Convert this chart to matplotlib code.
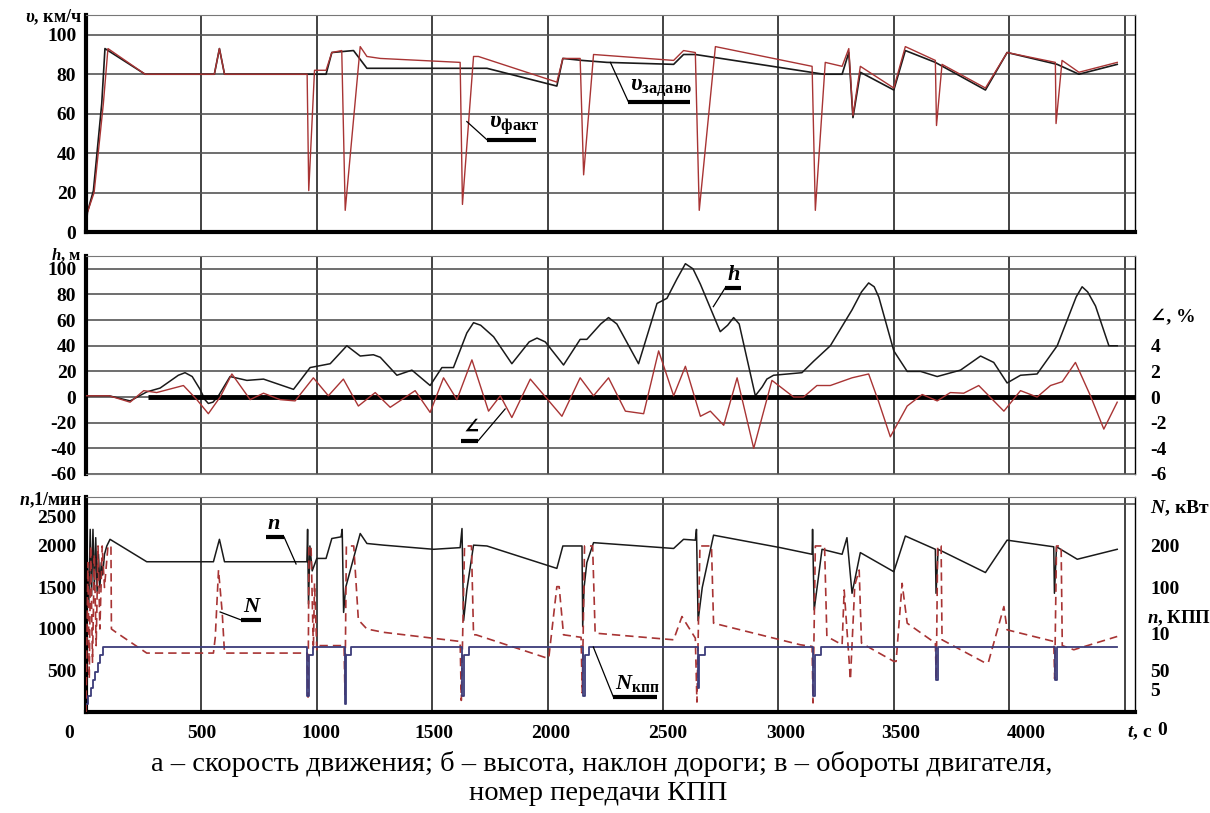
import matplotlib
matplotlib.use('Agg')
import matplotlib.pyplot as plt
from matplotlib.transforms import ScaledTranslation

plt.rcParams['font.family'] = ['Liberation Serif', 'DejaVu Serif']
plt.rcParams['font.weight'] = 'bold'
plt.rcParams['axes.unicode_minus'] = False
plt.rcParams['mathtext.fontset'] = 'custom'
plt.rcParams['mathtext.it'] = 'Liberation Serif:italic:bold'
plt.rcParams['mathtext.rm'] = 'Liberation Serif:bold'
plt.rcParams['mathtext.bf'] = 'Liberation Serif:bold'

# --- a: speed, km/h ---
v_set_t = [0, 6, 32, 68, 82, 256, 556, 578, 600, 1040, 1065, 1159, 1217, 1462, 1737,
           2040, 2066, 2149, 2257, 2546, 2589, 2640, 3196, 3276, 3305, 3323, 3355,
           3500, 3550, 3680, 3897, 3991, 4208, 4302, 4468]
v_set = [0, 10, 21, 65, 93, 80, 80, 93, 80, 80, 91, 92, 83, 83, 83,
         74, 88, 87, 86, 85, 90, 90, 80, 80, 91, 58, 81,
         72, 92, 86, 72, 91, 85, 80, 85]

v_fact_t = [0, 6, 35, 75, 95, 256, 556, 578, 600, 958, 965, 990, 1040, 1065, 1108, 1123,
            1188, 1217, 1275, 1621, 1631, 1679, 1700, 2040, 2066, 2141, 2156, 2199,
            2546, 2589, 2640, 2657, 2727, 3146, 3160, 3203, 3276, 3305, 3323, 3355,
            3500, 3550, 3680, 3685, 3709, 3897, 3991, 4200, 4203, 4229, 4302, 4468]
v_fact = [0, 10, 20, 65, 93, 80, 80, 93, 80, 80, 21, 82, 82, 91, 92, 11,
          94, 89, 88, 86, 14, 89, 89, 76, 88, 88, 29, 90,
          87, 92, 91, 11, 94, 84, 11, 86, 84, 93, 59, 84,
          73, 94, 87, 54, 85, 73, 91, 86, 55, 87, 81, 86]

# --- b: altitude, m and road slope, % ---
h_t = [0, 100, 191, 263, 321, 400, 429, 460, 494, 515, 530, 550, 574, 624, 697, 769,
       899, 971, 1058, 1130, 1188, 1245, 1275, 1347, 1412, 1491, 1542, 1592, 1650,
       1679, 1710, 1766, 1845, 1920, 1954, 1990, 2069, 2141, 2170, 2230, 2264, 2300,
       2394, 2474, 2517, 2560, 2597, 2630, 2662, 2748, 2780, 2806, 2830, 2900, 2930,
       2950, 2979, 3102, 3153, 3225, 3319, 3360, 3391, 3415, 3435, 3500, 3558, 3616,
       3688, 3789, 3876, 3933, 3991, 4049, 4121, 4208, 4290, 4316, 4340, 4374, 4432, 4468]
h = [1, 1, -3, 4, 7, 17, 19, 16, 6, -2, -5, -4, 1, 16, 13, 14,
     6, 23, 26, 40, 32, 33, 31, 17, 21, 9, 23, 23, 50,
     58, 56, 47, 26, 43, 46, 43, 25, 45, 45, 57, 62, 57,
     26, 73, 77, 92, 104, 100, 88, 51, 56, 62, 57, 1, 8,
     14, 17, 19, 28, 40, 68, 82, 89, 86, 78, 36, 20, 20,
     16, 21, 32, 27, 11, 17, 18, 40, 78, 86, 82, 71, 40, 40]

slope_t = [0, 100, 191, 250, 306, 422, 480, 530, 581, 632, 711, 769, 841, 906, 985, 1050,
           1115, 1180, 1253, 1318, 1426, 1491, 1549, 1607, 1672, 1744, 1795, 1845, 1925,
           2062, 2141, 2199, 2264, 2337, 2416, 2481, 2546, 2597, 2662, 2705, 2763, 2821,
           2893, 2972, 3066, 3109, 3167, 3225, 3319, 3391, 3435, 3485, 3558, 3623, 3688,
           3745, 3803, 3868, 3977, 4049, 4121, 4179, 4230, 4287, 4352, 4410, 4468]
slope = [0.1, 0.1, -0.4, 0.5, 0.35, 0.9, -0.2, -1.3, 0, 1.8, -0.2, 0.3, -0.2, -0.3, 1.5, 0.1,
         1.4, -0.7, 0.35, -0.8, 0.5, -1.2, 1.5, -0.2, 2.9, -1.1, 0.1, -1.6, 1.4,
         -1.5, 1.5, 0.1, 1.5, -1.1, -1.3, 3.6, 0.1, 2.4, -1.5, -1.1, -2.2, 1.5,
         -4.0, 1.3, 0, 0, 0.9, 0.9, 1.5, 1.8, -0.4, -3.1, -0.7, 0.2, -0.3,
         0.35, 0.3, 0.9, -1.1, 0.5, 0, 0.9, 1.2, 2.7, 0.1, -2.5, -0.4]
zero_line_start = 270

# --- c: engine speed, power, gear ---
n_t = [0, 6, 12, 18, 24, 30, 36, 42, 48, 54, 60, 66, 72, 80, 90, 104, 263, 552, 578, 600,
       957, 960, 964, 970, 980, 1000, 1040, 1065, 1105, 1110, 1116, 1125, 1188, 1217,
       1289, 1506, 1621, 1629, 1636, 1650, 1679, 1737, 2040, 2066, 2149, 2152, 2158,
       2170, 2199, 2546, 2589, 2640, 2645, 2652, 2670, 2719, 3008, 3146, 3148, 3155,
       3189, 3276, 3297, 3319, 3355, 3500, 3550, 3680, 3683, 3692, 3897, 3991, 4193,
       4196, 4205, 4295, 4468]
n_rpm = [100, 1800, 1300, 2200, 1400, 2200, 1500, 2100, 1450, 1900, 1500, 1800, 1650, 1900,
         2000, 2080, 1810, 1810, 2080, 1810, 1810, 2200, 1300, 2000, 1700, 1850, 1850,
         2090, 2110, 2200, 1200, 1500, 2150, 2030, 2010, 1960, 1980, 2210, 1100, 1470,
         2010, 2000, 1730, 2000, 2000, 1030, 1500, 1800, 2040, 1970, 2080, 2070, 2200,
         1100, 1500, 2130, 1980, 1900, 2200, 1230, 1960, 1900, 2100, 1430, 1920, 1690,
         2120, 1960, 1430, 1960, 1680, 2070, 1990, 1430, 1990, 1840, 1960]

power_t = [0, 8, 14, 20, 28, 36, 44, 52, 60, 70, 80, 95, 108, 110, 130, 263, 552, 560, 574,
           590, 600, 958, 962, 966, 975, 985, 990, 1000, 1010, 1118, 1122, 1128, 1160,
           1180, 1217, 1289, 1621, 1626, 1640, 1670, 1679, 1690, 1997, 2005, 2040, 2050,
           2069, 2145, 2150, 2160, 2195, 2206, 2546, 2582, 2640, 2647, 2660, 2710, 2719,
           3095, 3146, 3150, 3160, 3200, 3210, 3276, 3285, 3312, 3331, 3350, 3360, 3500,
           3510, 3536, 3558, 3680, 3684, 3690, 3705, 3709, 3897, 3910, 3977, 3991, 4193,
           4197, 4205, 4225, 4230, 4280, 4468]
power_kw = [0, 180, 40, 200, 60, 190, 80, 200, 100, 200, 150, 200, 200, 100, 96, 71, 71, 90,
            171, 120, 71, 71, 18, 200, 200, 75, 155, 75, 80, 80, 21, 200, 200,
            111, 100, 96, 85, 14, 200, 200, 93, 93, 65, 65, 151, 151,
            93, 90, 23, 200, 200, 95, 87, 115, 89, 12, 200, 200, 107,
            81, 79, 11, 200, 200, 91, 81, 147, 39, 153, 171, 83, 61,
            61, 155, 107, 83, 39, 200, 200, 87, 59, 60, 127, 99, 85,
            40, 200, 200, 80, 75, 91]

gear_t = [0, 10, 20, 30, 40, 50, 60, 75, 958, 966, 985, 1120, 1128, 1150, 1629, 1636, 1660,
          2152, 2160, 2180, 2650, 2658, 2680, 3150, 3160, 3185, 3683, 3690, 4200, 4208, 4468]
gear = [3, 4, 5, 6, 7, 8, 9, 10, 4, 9, 10, 3, 9, 10, 4, 9, 10,
        4, 9, 10, 5, 9, 10, 4, 9, 10, 6, 10, 6, 10, 10]

x_ticks = [0, 500, 1000, 1500, 2000, 2500, 3000, 3500, 4000, 4500]
x_labels = ['0', '500', '1000', '1500', '2000', '2500', '3000', '3500', '4000', '$t$, с']
x_label_shift = [-17, 0, 4, 2, 3, 5, 7, 7, 17, 15]  # px, as printed in the source

BLACK = '#1a1a1a'
RED = '#a83434'
GEAR = '#3c3c7a'


def frame(ax, thick_bottom=True):
    ax.set_xlim(0, 4545)
    ax.set_xticks(x_ticks)
    ax.tick_params(length=0, labelsize=14, pad=7)
    ax.xaxis.grid(True, color='#222222', lw=1.2)
    ax.spines['left'].set_linewidth(3)
    ax.spines['top'].set_color('#777777')
    ax.spines['right'].set_linewidth(1)
    if thick_bottom:
        ax.spines['bottom'].set_linewidth(3)
    else:
        ax.spines['bottom'].set_color('#777777')


def twin(ax):
    tw = ax.twinx()
    for s in tw.spines.values():
        s.set_visible(False)
    tw.tick_params(length=0, labelsize=14, pad=11)
    return tw


def callout(ax, label, x0, x1, y, target, size=15):
    ax.plot([x0, x1], [y, y], color='k', lw=3, solid_capstyle='butt')
    start = x0 if abs(target[0] - x0) < abs(target[0] - x1) else x1
    ax.plot([start, target[0]], [y, target[1]], color='k', lw=0.9)
    ax.annotate(label, (x0, y), xytext=(1, 2), textcoords='offset points',
                ha='left', va='bottom', fontsize=size)


fig = plt.figure(figsize=(12.1, 8.13), dpi=100)
left, width = 0.0711, 0.8669

# a
ax1 = fig.add_axes([left, 0.7146, width, 0.2669])
frame(ax1)
ax1.set_ylim(0, 110)
ax1.set_yticks([0, 20, 40, 60, 80, 100])
ax1.yaxis.grid(True, color='#555555', lw=1.2)
ax1.tick_params(labelbottom=False)
ax1.plot(v_set_t, v_set, color=BLACK, lw=1.2)
ax1.plot(v_fact_t, v_fact, color=RED, lw=1.0)
ax1.text(-0.004, 0.99, r'$\upsilon$, км/ч', transform=ax1.transAxes,
         ha='right', va='center', fontsize=13)
callout(ax1, r'$\upsilon_{\mathrm{факт}}$', 1738, 1951, 46.7, (1650, 56), size=17)
callout(ax1, r'$\upsilon_{\mathrm{задано}}$', 2350, 2618, 66, (2272, 86), size=17)

# b
ax2 = fig.add_axes([left, 0.4170, width, 0.2681])
frame(ax2, thick_bottom=False)
ax2.set_ylim(-60, 110)
ax2.set_yticks([-60, -40, -20, 0, 20, 40, 60, 80, 100])
ax2.yaxis.grid(True, color='#555555', lw=1.2)
ax2.tick_params(labelbottom=False)
ax2.hlines(0, zero_line_start, 4545, color='k', lw=3.5, zorder=3)
ax2.plot(h_t, h, color=BLACK, lw=1.1)
ax2.text(-0.004, 1.005, '$h$, м', transform=ax2.transAxes,
         ha='right', va='center', fontsize=12)
ax2r = twin(ax2)
ax2r.set_ylim(-6, 11)
ax2r.set_yticks([-6, -4, -2, 0, 2, 4])
ax2r.plot(slope_t, slope, color=RED, lw=1.0)
ax2.text(1.014, 0.716, '∠, %', transform=ax2.transAxes, ha='left', va='center',
         fontsize=14)
callout(ax2, '$h$', 2770, 2839, 85.3, (2718, 70.5), size=16)
callout(ax2r, '∠', 1626, 1699, -3.41, (1816, -0.93), size=15)

# c
ax3 = fig.add_axes([left, 0.1242, width, 0.2645])
frame(ax3)
ax3.set_ylim(0, 2590)
ax3.set_yticks([500, 1000, 1500, 2000, 2350])
ax3.set_yticklabels(['500', '1000', '1500', '2000', '2500'])
ax3.set_yticks([500, 1000, 1500, 2000, 2500], minor=True)
ax3.tick_params(which='minor', length=0)
ax3.yaxis.grid(True, which='minor', color='#555555', lw=1.2)
ax3.set_xticklabels(x_labels)
ax3.tick_params(axis='x', pad=9, labelsize=14)
for lab, dx in zip(ax3.get_xticklabels(), x_label_shift):
    lab.set_transform(lab.get_transform() + ScaledTranslation(dx / 100, 0, fig.dpi_scale_trans))
ax3.plot(n_t, n_rpm, color=BLACK, lw=1.1)
ax3.text(-0.004, 0.986, '$n$,1/мин', transform=ax3.transAxes,
         ha='right', va='center', fontsize=13)

ax3n = twin(ax3)
ax3n.set_ylim(0, 259)
ax3n.set_yticks([50, 150, 200])
ax3n.set_yticklabels(['50', '100', '200'])
ax3n.plot(power_t, power_kw, color=RED, lw=1.2, ls=(0, (5, 3)))

ax3g = twin(ax3)
ax3g.set_ylim(2.07, 28.3)
ax3g.set_yticks([4.8, 11.6])
ax3g.set_yticklabels(['5', '10'])
ax3g.plot(gear_t, gear, color=GEAR, lw=1.3, drawstyle='steps-post')

ax3.text(1.0143, 0.949, '$N$, кВт', transform=ax3.transAxes, ha='left', va='center',
         fontsize=14)
ax3.text(1.011, 0.437, '$n$, КПП', transform=ax3.transAxes, ha='left', va='center',
         fontsize=13.5)
ax3.text(1.021, -0.085, '0', transform=ax3.transAxes, ha='left', va='center',
         fontsize=14)
callout(ax3, '$n$', 780, 858, 2109, (910, 1783), size=16)
callout(ax3n, '$N$', 672, 759, 110.9, (581, 120.5), size=16)
callout(ax3g, r'$N_{\mathrm{кпп}}$', 2285, 2475, 3.9, (2198, 10), size=16)

fig.text(0.497, 1 - 764 / 813,
         'а – скорость движения; б – высота, наклон дороги; в – обороты двигателя,',
         ha='center', va='center', fontsize=20.5, fontweight='normal')
fig.text(0.494, 1 - 793 / 813, 'номер передачи КПП',
         ha='center', va='center', fontsize=20.5, fontweight='normal')

fig.savefig('out.png', dpi=100)
